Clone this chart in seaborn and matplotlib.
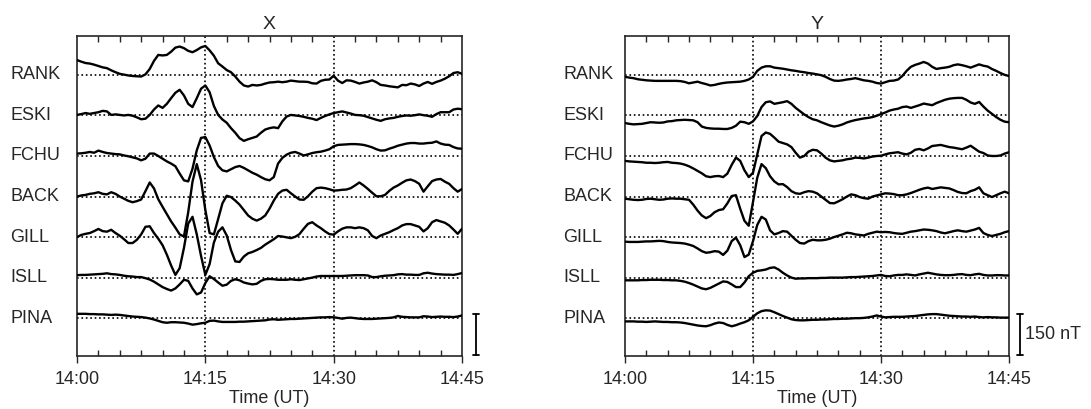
import numpy as np
import pandas as pd
import matplotlib
matplotlib.use("Agg")
import matplotlib.pyplot as plt
import seaborn as sns

# magnetometer stations, top to bottom
stations = ["RANK", "ESKI", "FCHU", "BACK", "GILL", "ISLL", "PINA"]
minutes = np.arange(0, 45.5, 0.5)  # minutes after 14:00 UT, 30 s steps
tick_minutes = [0, 15, 30, 45]
tick_labels = ["14:00", "14:15", "14:30", "14:45"]
spacing = 150     # nT between stacked traces
scale_bar = 150   # nT

# X component (nT, deviation from each station's baseline)
rank_x = [55, 49, 44, 42, 38, 33, 28, 25, 17, 10, 4, 1, -2, -4, -5, -6, 2, 22, 52, 74,
          72, 74, 86, 101, 105, 99, 89, 84, 92, 102, 107, 91, 71, 43, 31, 18, 10, -6, -25, -39,
          -43, -37, -39, -37, -32, -28, -27,
          -25, -27, -25, -21, -23, -25, -25, -26, -31, -32, -22, -18, -17, -3, -21, -30, -20, -21,
          -26, -32, -28, -25, -20, -27, -37, -39, -42, -44, -46, -37, -38, -32, -35, -41, -32, -26,
          -33, -26, -21, -14, -5, 7, 10, 4]
eski_x = [2, 5, 9, 6, 9, 12, 17, 15, 2, 4, 2, 0, 2, -1, -7, -14, -12, 2, 22, 37,
          28, 43, 64, 84, 95, 74, 43, 31, 64, 99, 111, 86, 35, 2, -15, -27, -47, -64, -84, -94,
          -88, -83, -78, -64, -52, -47, -44,
          -47, -22, -4, 2, 0, -2, -5, -9, -12, -17, -9, -2, 4, 9, 12, 15, 11, 7, 2, 1,
          -1, -6, -11, -16, -20, -14, -11, -9, -5, -2, 0, -1, 1, 4, 1, -1, -5, 5, 12, 12,
          12, 22, 25, 23]
fchu_x = [9, 10, 12, 15, 12, 20, 15, 11, 9, 7, 6, 2, -1, -5, -9, -16, -10, 9, 9, 0,
          -10, -20, -28, -38, -65, -90, -94, -47, 21, 67, 70, 39, -4, -37, -53, -57, -49, -41, -37, -44,
          -53, -62, -69, -78, -86, -90, -78,
          -28, -7, 5, 12, 15, 9, 2, 6, 11, 14, 16, 20, 25, 36, 41, 42, 43, 44, 44, 43,
          41, 37, 32, 25, 20, 21, 27, 32, 38, 42, 46, 48, 48, 46, 46, 48, 49, 54, 46, 42,
          41, 33, 28, 27]
back_x = [0, 4, 6, 10, 12, 16, 10, 8, 16, 10, 0, -8, -16, -21, -17, -11, 20, 52, 30, -10,
          -38, -65, -92, -115, -140, -148, -58, 55, 120, 60, -50, -135, -140, -83, -25, 3, -2, -15, -30, -50,
          -70, -82, -89, -82, -70, -45, -15,
          10, 22, 25, 12, 0, -11, -12, 1, 18, 31, 33, 31, 27, 22, 23, 25, 26, 31, 41, 52,
          41, 28, 14, 1, 1, 6, 21, 33, 41, 51, 60, 63, 57, 47, 18, 38, 57, 63, 65, 55,
          47, 31, 18, 28]
gill_x = [0, 8, 12, 15, 22, 30, 22, 20, 27, 15, 5, -8, -22, -22, -10, 10, 38, 40, 15, -6,
          -30, -65, -105, -140, -115, -40, 50, 75, 10, -70, -140, -100, -20, 20, 36, 6, -48, -90, -92, -72,
          -60, -55, -48, -40, -28, -18, -8,
          4, 2, -1, -4, 1, 11, 31, 49, 55, 43, 33, 21, 11, 9, 21, 31, 36, 36, 33, 36,
          33, 25, 4, -4, 6, 12, 18, 26, 33, 43, 48, 48, 43, 38, 21, 33, 55, 63, 58, 53,
          43, 28, 12, 31]
isll_x = [9, 10, 10, 11, 12, 13, 14, 16, 13, 12, 10, 7, 5, 4, 2, 2, -2, -7, -15, -25,
          -35, -42, -48, -40, -25, -8, -12, -40, -62, -55, -20, 5, -5, -18, -30, -26, -12, -6, -10, -18,
          -22, -25, -23, -12, -6, -5, -6,
          -8, -8, -8, -6, -8, -9, -6, -3, 0, 4, 6, 6, 6, 6, 6, 6, 7, 8, 9, 9,
          9, 8, 2, 2, 5, 7, 8, 9, 12, 13, 11, 11, 10, 10, 16, 18, 15, 13, 12, 11,
          11, 10, 13, 17]
pina_x = [16, 16, 16, 15, 15, 14, 14, 13, 12, 13, 12, 10, 8, 6, 5, 4, 2, -1, -5, -10,
          -15, -17, -15, -15, -16, -17, -20, -24, -22, -19, -17, -10, -9, -12, -14, -14, -14, -14, -13, -13,
          -12, -11, -10, -9, -8, -5, -4,
          -6, -5, -4, -3, -3, -2, -1, 0, 1, 2, 3, 3, 4, 3, 1, -2, 1, 2, 0, -2,
          -3, -3, -3, -2, -1, 0, 1, 3, 8, 5, 4, 3, 3, 3, 7, 6, 4, 5, 6, 5,
          5, 4, 6, 10]

# Y component (nT)
rank_y = [-7, -10, -12, -16, -18, -20, -21, -22, -22, -22, -22, -22, -22, -23, -26, -31, -28, -25, -30, -34,
          -39, -37, -33, -30, -28, -27, -26, -25, -22, -17, -7, 15, 27, 32, 32, 27, 25, 23, 20, 17,
          15, 12, 10, 7, 5, 2, -1, -7, -15, -21, -22, -20, -17, -15, -12, -16, -20, -22, -25, -30,
          -32, -27, -22, -21, -17, -4, 15, 30, 37, 42, 48, 42, 30, 22, 25, 27, 30, 36, 39, 36,
          32, 27, 33, 39, 34, 31, 22, 15, 7, 0, -4]
eski_y = [-28, -31, -33, -32, -31, -28, -25, -26, -27, -26, -22, -21, -18, -17, -16, -17, -18, -25, -41, -46,
          -48, -49, -49, -50, -50, -46, -38, -23, -25, -31, -22, -2, 31, 49, 52, 43, 46, 49, 53, 43,
          28, 16, 4, -6, -14, -18, -25, -31, -37, -41, -38, -33, -26, -21, -17, -14, -11, -9, -6, -1,
          5, 11, 18, 22, 25, 31, 33, 28, 33, 38, 44, 41, 38, 46, 52, 58, 62, 64, 65, 65,
          58, 48, 43, 50, 33, 18, 6, -6, -16, -23, -25]
fchu_y = [-18, -20, -21, -22, -23, -25, -25, -26, -25, -23, -22, -25, -26, -28, -32, -38, -46, -55, -64, -75,
          -78, -75, -74, -78, -65, -33, -6, -18, -53, -78, -62, 6, 74, 87, 82, 68, 53, 48, 43, 33,
          12, -6, 0, 16, 23, 21, 9, -6, -16, -20, -18, -16, -12, -10, -6, -7, -9, -6, -2, 0,
          1, 6, 10, 12, 14, 9, 6, 12, 23, 26, 21, 28, 37, 39, 41, 37, 33, 31, 28, 25,
          31, 38, 27, 16, 11, 2, 0, 0, 2, 9, 14]
back_y = [-8, -10, -12, -13, -12, -9, -8, -10, -12, -11, -8, -7, -8, -8, -10, -12, -30, -52, -70, -80,
          -72, -58, -50, -47, -25, 2, 5, -45, -90, -108, -20, 70, 120, 105, 75, 56, 45, 46, 35, 20,
          12, 10, 16, 20, 18, 12, 0, -12, -24, -25, -18, -10, 0, 8, 5, -2, -6, -8, 0, 4,
          8, 12, 11, 9, 5, 5, 8, 13, 19, 25, 30, 33, 28, 31, 34, 32, 30, 24, 17, 13,
          12, 20, 25, 34, 12, 5, -2, 5, 12, 18, 12]
gill_y = [-17, -18, -18, -18, -17, -16, -16, -15, -14, -15, -18, -20, -21, -22, -24, -28, -33, -42, -52, -58,
          -56, -52, -54, -66, -50, -15, -2, -30, -74, -65, -15, 45, 75, 65, 25, 10, 15, 22, 20, 5,
          -10, -22, -24, -15, -10, -12, -12, -10, -6, 0, 5, 10, 16, 14, 10, 8, 6, 12, 16, 20,
          18, 19, 18, 15, 13, 12, 16, 20, 22, 25, 28, 27, 25, 22, 17, 14, 18, 22, 25, 22,
          20, 24, 28, 34, 15, 8, 4, 8, 12, 18, 22]
isll_y = [-10, -10, -10, -10, -9, -9, -8, -8, -8, -9, -9, -10, -10, -12, -15, -20, -26, -33, -40, -43,
          -38, -30, -22, -14, -16, -25, -35, -35, -18, 5, 18, 25, 27, 30, 36, 38, 30, 18, 8, 0,
          -4, -3, -3, -2, -2, -2, -1, -1, 0, 0, 0, 0, 1, 2, 2, 3, 4, 5, 6, 8,
          10, 6, 5, 8, 10, 10, 12, 10, 8, 12, 15, 18, 15, 12, 10, 9, 9, 10, 12, 13,
          10, 9, 12, 14, 10, 8, 8, 9, 9, 8, 8]
pina_y = [-12, -12, -12, -13, -13, -14, -13, -12, -13, -14, -14, -15, -15, -16, -18, -21, -24, -27, -29, -30,
          -26, -20, -16, -18, -25, -30, -26, -20, -15, -8, 5, 18, 26, 29, 28, 22, 15, 8, 2, -4,
          -7, -8, -8, -7, -6, -6, -5, -5, -4, -3, -3, -2, -2, -1, 0, 0, 1, 3, 6, 10,
          6, 3, 4, 5, 5, 5, 6, 7, 8, 10, 12, 14, 15, 15, 13, 11, 9, 8, 7, 6,
          6, 5, 6, 4, 3, 4, 3, 3, 2, 2, 2]

x_series = [rank_x, eski_x, fchu_x, back_x, gill_x, isll_x, pina_x]
y_series = [rank_y, eski_y, fchu_y, back_y, gill_y, isll_y, pina_y]


def stack(series):
    parts = []
    for i, (name, vals) in enumerate(zip(stations, series)):
        vals = np.asarray(vals, dtype=float)
        parts.append(pd.DataFrame({"minute": minutes, "station": name,
                                   "value": vals, "shifted": vals - i * spacing}))
    return pd.concat(parts, ignore_index=True)


sns.set_style("ticks")
plt.rcParams["font.family"] = ["Liberation Sans", "DejaVu Sans"]

fig = plt.figure(figsize=(10.91, 4.09), dpi=100)
ax_x = fig.add_axes([77 / 1091, 53 / 409, 385 / 1091, 320 / 409])
ax_y = fig.add_axes([625 / 1091, 53 / 409, 384 / 1091, 320 / 409])

panels = [(ax_x, x_series, "X", -0.174, 46.6, False),
          (ax_y, y_series, "Y", -0.161, 46.3, True)]

for ax, series, title, label_x, bar_x, bar_text in panels:
    df = stack(series)
    for i in range(len(stations)):
        ax.axhline(-i * spacing, ls=":", lw=1.2, color="black", zorder=1)
    for m in (15, 30):
        ax.axvline(m, ls=":", lw=1.2, color="black", zorder=1)
    sns.lineplot(data=df, x="minute", y="shifted", units="station", estimator=None,
                 color="black", lw=1.7, ax=ax, zorder=3)

    ax.set_xlim(0, 45)
    ax.set_ylim(-1040, 144)
    ax.set_xticks(tick_minutes)
    ax.set_xticklabels(tick_labels, fontsize=13)
    ax.set_xticks(np.arange(0, 45.1, 2.5), minor=True)
    ax.tick_params(axis="x", which="major", direction="out", length=5, width=1, pad=6)
    ax.tick_params(axis="x", which="minor", direction="in", length=4, width=1,
                   top=True, bottom=True)
    ax.set_yticks([])
    ax.set_xlabel("Time (UT)", fontsize=13, labelpad=1)
    ax.set_ylabel("")
    ax.set_title(title, fontsize=14, pad=5)
    for s in ax.spines.values():
        s.set_linewidth(1.2)

    trans = ax.get_yaxis_transform()
    for i, name in enumerate(stations):
        ax.text(label_x, -i * spacing, name, transform=trans, ha="left", va="center",
                fontsize=13)

    # 150 nT scale bar at lower right
    lo = -1036
    hi = lo + scale_bar
    ax.plot([bar_x, bar_x], [lo, hi], color="black", lw=1.3, clip_on=False)
    for yy in (lo, hi):
        ax.plot([bar_x - 0.35, bar_x + 0.35], [yy, yy], color="black", lw=1.3, clip_on=False)
    if bar_text:
        ax.text(bar_x + 0.55, (lo + hi) / 2, "150 nT", ha="left", va="center", fontsize=13)

fig.savefig("out.png", dpi=100)
